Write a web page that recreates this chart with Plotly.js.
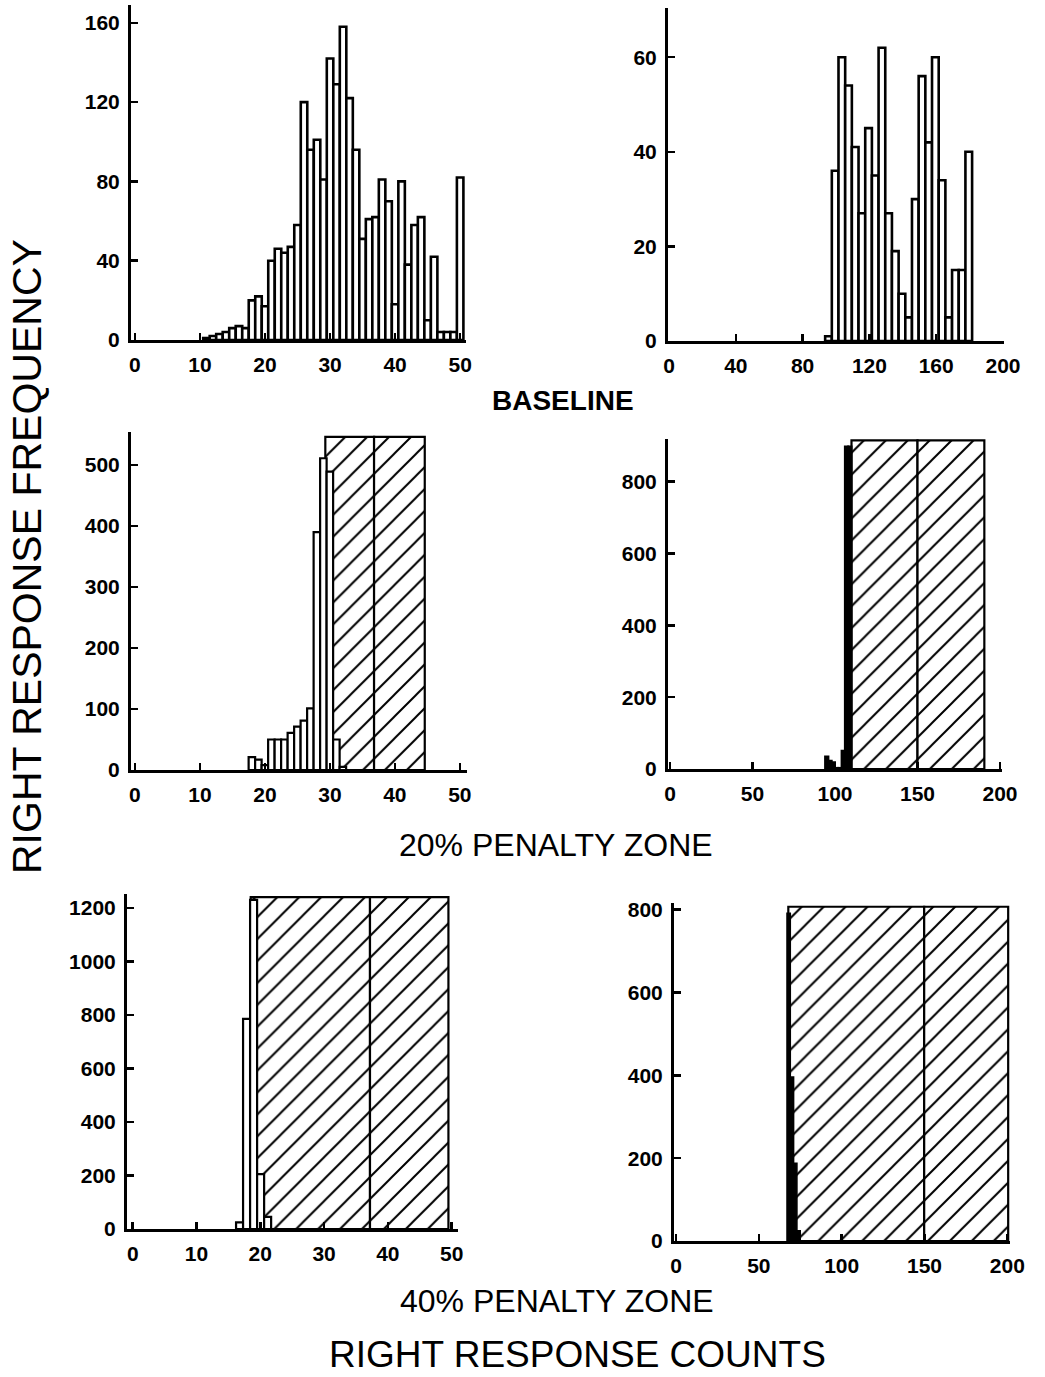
<!DOCTYPE html>
<html><head><meta charset="utf-8">
<script src="https://cdn.plot.ly/plotly-3.0.1.min.js"></script>
<style>html,body{margin:0;padding:0;background:#fff}#chart{width:1045px;height:1377px}</style>
</head><body><div id="chart"></div>
<script>
// ---------- DATA ----------
// Baseline, left animal (count scale 0-50), bin width 1
const baseL_bins   = [11,12,13,14,15,16,17,18,19,20,21,22,23,24,25,26,27,28,29,30,31,32,33,34,35,36,37,38,39,40,41,42,43,44,45,46,47,48,49,50];
const baseL_counts = [1,2,3,4,6,7,6,20,22,17,40,46,44,47,58,120,96,101,81,142,129,158,122,96,51,61,62,81,70,18,80,38,58,62,10,42,4,4,4,82];
// Baseline, right animal (count scale 0-200), bin width 4
const baseR_bins   = [95.5,99.5,103.5,107.5,111.5,115.5,119.5,123.5,127.5,131.5,135.5,139.5,143.5,147.5,151.5,155.5,159.5,163.5,167.5,171.5,175.5,179.5];
const baseR_counts = [1,36,60,54,41,27,45,35,62,27,19,10,5,30,56,42,60,34,5,15,15,40];
// 20% penalty zone, left
const p20L_bins   = [18,19,20,21,22,23,24,25,26,27,28,29,30,31,32];
const p20L_counts = [21,17,8,50,50,50,61,71,81,101,390,511,489,50,5];
const p20L_zone   = [29.3,36.8,44.6];   // zone edges (left, divider, right)
const p20L_zoneTop = 546;
// 20% penalty zone, right
const p20R_bins   = [95,97,99,101,103,105,107,109];
const p20R_counts = [35,23,19,3,3,51,898,898];
const p20R_zone   = [110,150,190.5];
const p20R_zoneTop = 915;
// 40% penalty zone, left
const p40L_bins   = [16.75,17.85,18.95,20.05,21.15];
const p40L_counts = [25,785,1230,205,45];
const p40L_zone   = [18.5,37.2,49.5];
const p40L_zoneTop = 1240;
// 40% penalty zone, right
const p40R_bins   = [68,70,72,74];
const p40R_counts = [791,396,188,25];
const p40R_zone   = [67.8,149.8,200.5];
const p40R_zoneTop = 807;

// tick values
const ticksX50  = [0,10,20,30,40,50];
const ticksX200a = [0,40,80,120,160,200];
const ticksX200b = [0,50,100,150,200];
const ticksY_A = [0,40,80,120,160];
const ticksY_B = [0,20,40,60];
const ticksY_C = [0,100,200,300,400,500];
const ticksY_D = [0,200,400,600,800];
const ticksY_E = [0,200,400,600,800,1000,1200];

// ---------- BUILD ----------
const W = 1045, H = 1377;
const FONT = 'Liberation Sans, Arial, Helvetica, sans-serif';
function dx(a,b){return [a/W, b/W];}
function dy(top,bottom){return [1-bottom/H, 1-top/H];}

function hist(n, bins, counts, width, fill, lw){
  return {type:'bar', x:bins, y:counts, width:width,
    xaxis:'x'+(n===1?'':n), yaxis:'y'+(n===1?'':n),
    marker:{color:fill, line:{color:'#000', width:lw}},
    hoverinfo:'skip', showlegend:false};
}
function zone(n, edges, top){
  const xs = [(edges[0]+edges[1])/2, (edges[1]+edges[2])/2];
  const ws = [edges[1]-edges[0], edges[2]-edges[1]];
  return {type:'bar', x:xs, y:[top,top], width:ws,
    xaxis:'x'+(n===1?'':n), yaxis:'y'+(n===1?'':n),
    marker:{color:'#fff', line:{color:'#000', width:2.2},
      pattern:{shape:'/', fgcolor:'#000', bgcolor:'#fff', size:15.5, solidity:0.13}},
    hoverinfo:'skip', showlegend:false};
}

const traces = [
  hist(1, baseL_bins, baseL_counts, 1, '#fff', 2.6),
  hist(2, baseR_bins, baseR_counts, 4, '#fff', 2.6),
  zone(3, p20L_zone, p20L_zoneTop),
  hist(3, p20L_bins, p20L_counts, 1, '#fff', 2.2),
  zone(4, p20R_zone, p20R_zoneTop),
  hist(4, p20R_bins, p20R_counts, 2, '#000', 2),
  zone(5, p40L_zone, p40L_zoneTop),
  hist(5, p40L_bins, p40L_counts, 1.1, '#fff', 2.2),
  zone(6, p40R_zone, p40R_zoneTop),
  hist(6, p40R_bins, p40R_counts, 2, '#000', 1.5)
];

const tickFont = {family:FONT, size:21, color:'#000', weight:700};
function ax(domain, range, tickvals, anchor){
  return {domain:domain, range:range, tickmode:'array', tickvals:tickvals,
    ticktext:tickvals.map(String), ticks:'inside', ticklen:7, tickwidth:2.5, tickcolor:'#000',
    showline:true, linecolor:'#000', linewidth:3, showgrid:false, zeroline:false,
    tickfont:tickFont, ticklabelstandoff:4, anchor:anchor, fixedrange:true};
}

function label(text, px, py, size, weight, angle){
  return {text:text, x:px/W, y:1-py/H, xref:'paper', yref:'paper', showarrow:false,
    xanchor:'center', yanchor:'middle', textangle:angle||0,
    font:{family:FONT, size:size, color:'#000', weight:weight}};
}

const layout = {
  width:W, height:H, margin:{l:0,r:0,t:0,b:0}, paper_bgcolor:'#fff', plot_bgcolor:'rgba(0,0,0,0)',
  barmode:'overlay', bargap:0, showlegend:false,
  xaxis:  ax(dx(131,466), [-0.6,50.9], ticksX50, 'y'),
  yaxis:  ax(dy(5,340), [0,169], ticksY_A, 'x'),
  xaxis2: ax(dx(668,1004), [-0.6,200.6], ticksX200a, 'y2'),
  yaxis2: ax(dy(8,341), [0,70.4], ticksY_B, 'x2'),
  xaxis3: ax(dx(131,467), [-0.6,51.1], ticksX50, 'y3'),
  yaxis3: ax(dy(432,770), [0,554], ticksY_C, 'x3'),
  xaxis4: ax(dx(668,1002), [-1.2,201.2], ticksX200b, 'y4'),
  yaxis4: ax(dy(439,769), [0,919], ticksY_D, 'x4'),
  xaxis5: ax(dx(127,458), [-0.9,51], ticksX50, 'y5'),
  yaxis5: ax(dy(894,1229), [0,1252], ticksY_E, 'x5'),
  xaxis6: ax(dx(674,1010), [-1.2,201.6], ticksX200b, 'y6'),
  yaxis6: ax(dy(903,1241), [0,816], ticksY_D, 'x6'),
  annotations:[
    label('BASELINE', 563, 400, 28, 700),
    label('20% PENALTY ZONE', 556, 845, 32, 400),
    label('40% PENALTY ZONE', 557, 1301, 32, 400),
    label('RIGHT RESPONSE COUNTS', 577, 1354, 37, 400),
    label('RIGHT RESPONSE FREQUENCY', 27, 557, 41, 400, -90)
  ]
};

Plotly.newPlot('chart', traces, layout, {staticPlot:true, displayModeBar:false});
</script>
</body></html>
